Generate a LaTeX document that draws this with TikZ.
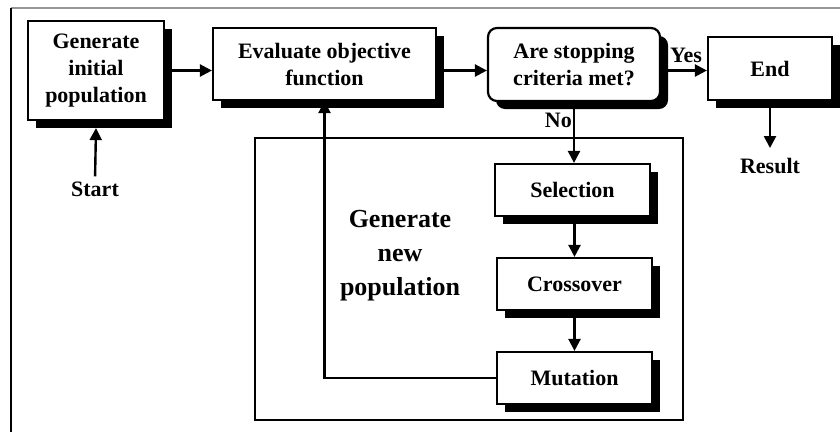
\documentclass[tikz,border=0pt]{standalone}
\usepackage{fontspec}
\setmainfont{Liberation Serif}
\usetikzlibrary{arrows.meta, shadows, calc}

\begin{document}
\begin{tikzpicture}[x=1pt,y=1pt,yscale=-1,xscale=1,
  block/.style={draw, line width=2.2pt, fill=white, align=center, inner sep=0pt,
    font=\bfseries\fontsize{22}{27}\selectfont,
    drop shadow={fill=black, opacity=1, shadow xshift=8pt, shadow yshift=-8pt}},
  lbl/.style={inner sep=1pt, font=\bfseries\fontsize{22}{27}\selectfont},
  flow/.style={line width=2.4pt, -{Triangle[length=12pt,width=12pt]}}]
\useasboundingbox (0,0) rectangle (840,432);

% frame
\draw [color={rgb, 255:red, 150; green, 150; blue, 150 }, line width=2pt] (11,8) -- (840,8) ;
\draw [line width=2.4pt] (11,8) -- (11,432) ;

% inner box
\draw [line width=2.2pt] (255,138) rectangle (683,420) ;

% Blocks
\node [block, minimum width=136pt, minimum height=99pt] (gen) at (96,70.5) {Generate\\initial\\population};
\node [block, minimum width=223pt, minimum height=72pt] (eval) at (324.5,64) {Evaluate objective\\function};
\node [block, rounded corners=9pt, minimum width=172pt, minimum height=73pt] (stop) at (574,64.5) {Are stopping\\criteria met?};
\node [block, minimum width=124pt, minimum height=63pt] (endb) at (770,68.5) {End};
\node [block, minimum width=155pt, minimum height=52pt] (sel) at (572.5,190) {Selection};
\node [block, minimum width=155pt, minimum height=52pt] (cro) at (574.5,284) {Crossover};
\node [block, minimum width=155pt, minimum height=52pt] (mut) at (574.5,378) {Mutation};

% Text Node
\node [lbl] (start) at (95,189) {Start};
% Text Node
\node [lbl] (result) at (770,166) {Result};
% Text Node
\node [align=center, font=\bfseries\fontsize{26}{34}\selectfont] (newpop) at (400,256) {Generate\\new\\population};

% Arrows
\draw [flow, shorten <=4pt] (start.north) -- ($(gen.south)+(0,7)$) ;
\draw [flow] (gen.east) -- (gen.east -| eval.west) ;
\draw [flow] (gen.east -| eval.east) -- (gen.east -| stop.west) ;
\draw [flow] (gen.east -| stop.east) -- node [lbl, above, yshift=6pt, xshift=2pt] (yes) {Yes} (gen.east -| endb.west) ;
\draw [flow] ($(endb.south)+(0,7)$) -- ($(result.north)+(0,-9)$) ;
\draw [flow] (stop.south) -- node [lbl, left, pos=0.3] (no) {No} (stop.south |- sel.north) ;
\draw [flow] (sel.south -| cro.north) -- (cro.north) ;
\draw [flow] (cro.south) -- (mut.north) ;
\draw [flow] (mut.west) -| (eval.south) ;

\end{tikzpicture}
\end{document}
